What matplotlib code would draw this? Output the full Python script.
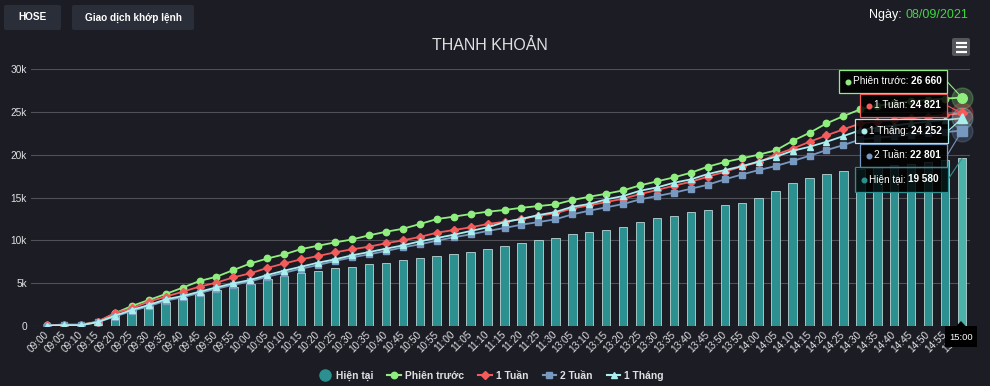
import matplotlib
matplotlib.use('Agg')
import matplotlib.pyplot as plt
from matplotlib.lines import Line2D
from matplotlib.patches import FancyBboxPatch, Rectangle, Polygon, ConnectionPatch
import numpy as np

plt.rcParams['font.family'] = ['Liberation Sans', 'DejaVu Sans']

# ---------------- data ----------------
categories = ['09:00', '09:05', '09:10', '09:15', '09:20', '09:25', '09:30', '09:35', '09:40', '09:45', '09:50', '09:55',
              '10:00', '10:05', '10:10', '10:15', '10:20', '10:25', '10:30', '10:35', '10:40', '10:45', '10:50', '10:55',
              '11:00', '11:05', '11:10', '11:15', '11:20', '11:25', '11:30',
              '13:05', '13:10', '13:15', '13:20', '13:25', '13:30', '13:35', '13:40', '13:45', '13:50', '13:55',
              '14:00', '14:05', '14:10', '14:15', '14:20', '14:25', '14:30', '14:35', '14:40', '14:45', '14:50', '14:55', '15:00']

hien_tai = [50, 100, 100, 400, 1280, 1940, 2330, 2840, 3230, 3700, 4200, 4590,
            4900, 5440, 5830, 6150, 6460, 6730, 6920, 7200, 7390, 7700, 7900, 8170,
            8360, 8630, 9000, 9370, 9650, 10070, 10270,
            10730, 11000, 11200, 11590, 12130, 12560, 12870, 13260, 13570, 14120, 14390,
            14900, 15750, 16730, 17300, 17700, 18050, 18300, 18550, 18750, 18950, 19150, 19350, 19580]

phien_truoc = [100, 150, 150, 500, 1480, 2330, 3030, 3730, 4470, 5250, 5750, 6530,
               7300, 7880, 8360, 8980, 9370, 9760, 10100, 10580, 11000, 11350, 11900, 12480,
               12760, 13070, 13340, 13540, 13800, 14000, 14200,
               14700, 15090, 15440, 15830, 16420, 16880, 17350, 17890, 18600, 19140, 19570,
               20000, 20500, 21600, 22550, 23650, 24500, 25300, 25700, 26000, 26250, 26400, 26550, 26660]

mot_tuan = [100, 150, 150, 500, 1500, 2060, 2840, 3420, 4000, 4590, 5060, 5680,
            6150, 6780, 7300, 7780, 8170, 8600, 8950, 9260, 9650, 10000, 10390, 10890,
            11200, 11520, 11900, 12170, 12500, 12870, 13140,
            13730, 14080, 14470, 14860, 15400, 15870, 16380, 16840, 17430, 18000, 18630,
            19120, 20000, 20700, 21500, 22250, 22950, 23650, 23850, 24050, 24250, 24450, 24650, 24821]

hai_tuan = [50, 100, 100, 450, 1100, 1750, 2300, 2950, 3350, 3850, 4350, 4800,
            5200, 5750, 6220, 6690, 7120, 7590, 8010, 8360, 8750, 9180, 9530, 9960,
            10350, 10700, 11090, 11440, 11830, 12130, 12450,
            13030, 13460, 13850, 14240, 14780, 15170, 15560, 16020, 16490, 17120, 17680,
            18200, 18670, 19250, 19870, 20530, 21120, 21780, 21980, 22150, 22320, 22480, 22640, 22801]

mot_thang = [50, 100, 100, 450, 1200, 1870, 2450, 3110, 3500, 4000, 4510, 4980,
             5370, 5950, 6460, 6920, 7390, 7780, 8250, 8630, 9020, 9410, 9880, 10270,
             10650, 11090, 11520, 12130, 12500, 12950, 13300,
             13920, 14240, 14780, 15170, 15790, 16180, 16720, 17120, 17740, 18200, 18650,
             19200, 19750, 20450, 20920, 21500, 22170, 22870, 23150, 23400, 23650, 23850, 24050, 24252]

y_ticks = [0, 5000, 10000, 15000, 20000, 25000, 30000]
y_labels = ['0', '5k', '10k', '15k', '20k', '25k', '30k']

title = 'THANH KHOẢN'
date_str = '08/09/2021'

# ---------------- style ----------------
BG = '#1c1c25'
GRID = '#505057'
TXT = '#e0e0e3'
C_BAR = '#2b908f'
C_BAR_HOVER = '#4bb2aa'
C_PT = '#90ee7e'
C_1T = '#f45b5b'
C_2T = '#7798bf'
C_1TH = '#aaeeee'

W, H = 990, 386
fig = plt.figure(figsize=(W / 100, H / 100), dpi=100)
fig.patch.set_facecolor(BG)

L, R, T, B = 31, 970, 69, 326
ax = fig.add_axes([L / W, 1 - B / H, (R - L) / W, (B - T) / H])
ax.set_facecolor(BG)

x = np.arange(len(categories))
bar_colors = [C_BAR] * (len(categories) - 1) + [C_BAR_HOVER]
ax.bar(x, hien_tai, width=0.5, color=bar_colors, edgecolor='#b9d6d4', linewidth=0.6, zorder=2)

series = [
    ('Phiên trước', phien_truoc, C_PT, 'o', 4.6),
    ('1 Tuần', mot_tuan, C_1T, 'D', 3.6),
    ('2 Tuần', hai_tuan, C_2T, 's', 4.4),
    ('1 Tháng', mot_thang, C_1TH, '^', 4.8),
]
for name, vals, c, m, ms in series:
    ax.plot(x, vals, color=c, lw=1.3, marker=m, ms=ms, mec=c, zorder=3)
    # hover state on last point
    ax.plot(x[-1], vals[-1], marker='o', ms=15, color=c, alpha=0.25, ls='none', zorder=4, clip_on=False)
    ax.plot(x[-1], vals[-1], marker=m, ms=ms * 1.5, color=c, ls='none', zorder=5, clip_on=False)

ax.set_xlim(-0.944, 54.47)
ax.set_ylim(0, 30000)
ax.set_yticks(y_ticks)
ax.set_yticklabels(y_labels)
ax.set_xticks(x)
ax.set_xticklabels(categories, rotation=45, ha='right', va='center', rotation_mode='anchor')
ax.tick_params(axis='y', length=0, pad=3, labelsize=7.3, colors=TXT)
ax.tick_params(axis='x', length=0, pad=5, labelsize=7.2, colors=TXT)
ax.grid(axis='y', color=GRID, lw=0.8)
ax.set_axisbelow(True)
for s in ax.spines.values():
    s.set_visible(False)

# ---------------- overlay (pixel coordinates) ----------------
ov = fig.add_axes([0, 0, 1, 1], zorder=10)
ov.set_xlim(0, W)
ov.set_ylim(H, 0)
ov.axis('off')
ov.patch.set_alpha(0)

# buttons
for (x0, x1, label) in [(4, 61, 'HOSE'), (72, 194, 'Giao dịch khớp lệnh')]:
    ov.add_patch(FancyBboxPatch((x0, 5), x1 - x0, 25, boxstyle='round,pad=0,rounding_size=2',
                                fc='#2a2e39', ec='none'))
    ov.text((x0 + x1) / 2, 17.5, label, ha='center', va='center', color='white',
            fontsize=7.2, weight='bold')

# date
t_ngay = ov.text(869, 15, 'Ngày: ', ha='left', va='center', color='white', fontsize=9)
ov.annotate(date_str, xy=(1, 0), xycoords=t_ngay, xytext=(0, 0), textcoords='offset points',
            ha='left', va='bottom', color='#3ed83e', fontsize=9)

# title
ov.text(490, 46, title, ha='center', va='center', color=TXT, fontsize=11.5)

# menu icon
ov.add_patch(FancyBboxPatch((952, 38), 18, 18, boxstyle='round,pad=0,rounding_size=2',
                            fc='#55555c', ec='none'))
for yy in (42.5, 47, 51.5):
    ov.plot([955.5, 966.5], [yy, yy], color='white', lw=1.6, solid_capstyle='butt')

# tooltips
def fmt(v):
    return f'{v:,}'.replace(',', ' ')

tips = [
    ('Phiên trước', phien_truoc[-1], C_PT, (839, 70, 947, 93)),
    ('1 Tuần', mot_tuan[-1], C_1T, (860, 94, 947, 117)),
    ('1 Tháng', mot_thang[-1], C_1TH, (855, 119, 948, 143)),
    ('2 Tuần', hai_tuan[-1], C_2T, (860, 144, 947, 167)),
    ('Hiện tại', hien_tai[-1], C_BAR, (855, 167, 948, 192)),
]
for name, val, c, (x0, y0, x1, y1) in tips:
    yc = (y0 + y1) / 2
    con = ConnectionPatch(xyA=(x1, yc), coordsA=ov.transData, xyB=(x[-1], val), coordsB=ax.transData,
                          color=c, lw=0.8, zorder=1)
    ov.add_artist(con)
    ov.add_patch(Rectangle((x0, y0), x1 - x0, y1 - y0, fc='black', alpha=0.85, ec='none', zorder=2))
    ov.add_patch(Rectangle((x0, y0), x1 - x0, y1 - y0, fc='none', ec=c, lw=0.9, zorder=3))
    ov.plot(x0 + 9, yc, 'o', ms=3.3, color=c, zorder=4)
    t = ov.text(x0 + 14, yc, name + ': ', ha='left', va='center', color='white', fontsize=7.2, zorder=4)
    ov.annotate(fmt(val), xy=(1, 0), xycoords=t, ha='left', va='bottom', color='white',
                fontsize=7.2, weight='bold', zorder=4)

# x-axis hover label
ov.add_patch(Rectangle((945, 326), 32, 21, fc='black', ec='none', zorder=5))
ov.add_patch(Polygon([(956, 326.5), (961, 321), (966, 326.5)], closed=True, fc='black', ec='none', zorder=5))
ov.text(961, 337, categories[-1], ha='center', va='center', color='white', fontsize=6.8, zorder=6)

# legend
handles = [Line2D([], [], ls='none', marker='o', ms=8, color=C_BAR)]
labels = ['Hiện tại']
for name, vals, c, m, ms in series:
    handles.append(Line2D([], [], color=c, lw=1.5, marker=m, ms=ms))
    labels.append(name)
fig.legend(handles, labels, loc='center', bbox_to_anchor=(491 / W, 1 - 376 / H), ncol=5,
           frameon=False, prop={'weight': 'bold', 'size': 7.4}, labelcolor=TXT,
           handlelength=1.3, handletextpad=0.4, columnspacing=1.4)

fig.savefig('out.png', dpi=100, facecolor=BG)
